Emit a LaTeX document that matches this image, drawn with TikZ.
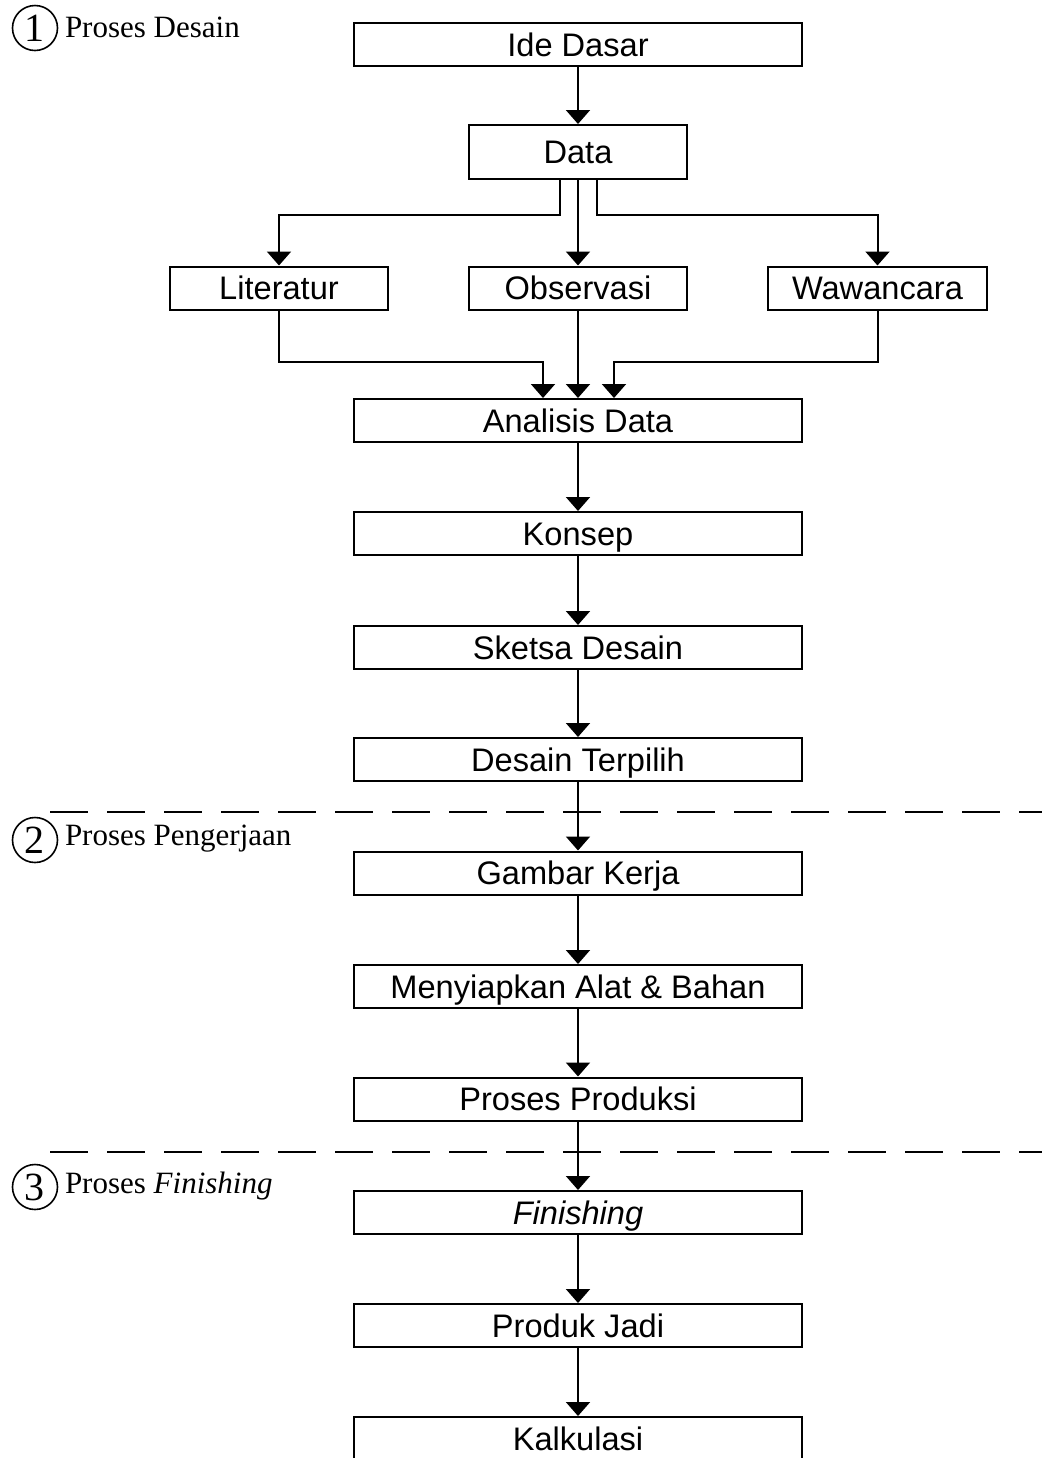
\documentclass[tikz,border=0pt]{standalone}
\usepackage{fontspec}
\setmainfont{Liberation Sans}
\newfontfamily\serifnum{Liberation Serif}
\usetikzlibrary{arrows.meta}

\tikzset{
  box/.style={draw, line width=1pt, inner sep=0pt, minimum height=21.5pt,
    text height=11.7pt, text depth=0pt, font=\fontsize{16.3}{18}\selectfont},
  circnum/.style={draw, circle, line width=0.8pt, inner sep=0pt, minimum size=22.5pt,
    text height=13pt, text depth=0pt, font=\serifnum\fontsize{20}{22}\selectfont},
  phase/.style={anchor=west, inner sep=0pt, font=\serifnum\fontsize{15.5}{17}\selectfont},
  sep/.style={-, line width=1pt, dash pattern=on 19pt off 9.5pt}
}

\begin{document}
\begin{tikzpicture}[x=0.5pt,y=-0.5pt,
    -{Triangle[width=12pt,length=7pt]}, line width=1pt]
   \useasboundingbox (0,0) rectangle (1042,1458);

   % phase labels
   \node[circnum] (c1) at (35,28) {1};
   \node[phase] (p1) at (64,27) {Proses Desain};
   \node[circnum] (c2) at (35,840) {2};
   \node[phase] (p2) at (64,839) {Proses Pengerjaan};
   \node[circnum] (c3) at (35,1187) {3};
   \node[phase] (p3) at (64,1186) {Proses \textit{Finishing}};

   % boxes
   \node[box, minimum width=224pt] (ide) at (578,44.5) {Ide Dasar};
   \node[box, minimum width=109pt, minimum height=27pt] (data) at (578,152) {Data};
   \node[box, minimum width=109pt] (lit) at (279,288) {Literatur};
   \node[box, minimum width=109pt] (obs) at (578,288) {Observasi};
   \node[box, minimum width=109.5pt] (waw) at (877.5,288) {Wawancara};
   \node[box, minimum width=224pt] (ana) at (578,420.5) {Analisis Data};
   \node[box, minimum width=224pt] (kon) at (578,533.5) {Konsep};
   \node[box, minimum width=224pt] (sket) at (578,647.5) {Sketsa Desain};
   \node[box, minimum width=224pt] (pilih) at (578,759.5) {Desain Terpilih};
   \node[box, minimum width=224pt] (gbr) at (578,873) {Gambar Kerja};
   \node[box, minimum width=224pt] (alat) at (578,986.5) {Menyiapkan Alat \& Bahan};
   \node[box, minimum width=224pt] (prod) at (578,1099) {Proses Produksi};
   \node[box, minimum width=224pt] (fin) at (578,1212.5) {\textit{Finishing}};
   \node[box, minimum width=224pt] (jadi) at (578,1325.5) {Produk Jadi};
   \node[box, minimum width=224pt] (kalk) at (578,1438.5) {Kalkulasi};

   % phase separators
   \draw[sep] (50,812) -- (1042,812);
   \draw[sep] (50,1152) -- (1042,1152);

   % arrows
   \draw (ide) -- (data);
   \draw ([xshift=-9pt]data.south) -- ++(0,-17.5pt) -| (lit.north);
   \draw (data) -- (obs);
   \draw ([xshift=9.5pt]data.south) -- ++(0,-17.5pt) -| (waw.north);
   \draw (lit.south) -- ++(0,-25.5pt) -| ([xshift=-17.5pt]ana.north);
   \draw (obs) -- (ana);
   \draw (waw.south) -- ++(0,-25.5pt) -| ([xshift=18pt]ana.north);
   \draw (ana) -- (kon);
   \draw (kon) -- (sket);
   \draw (sket) -- (pilih);
   \draw (pilih) -- (gbr);
   \draw (gbr) -- (alat);
   \draw (alat) -- (prod);
   \draw (prod) -- (fin);
   \draw (fin) -- (jadi);
   \draw (jadi) -- (kalk);

\end{tikzpicture}
\end{document}
